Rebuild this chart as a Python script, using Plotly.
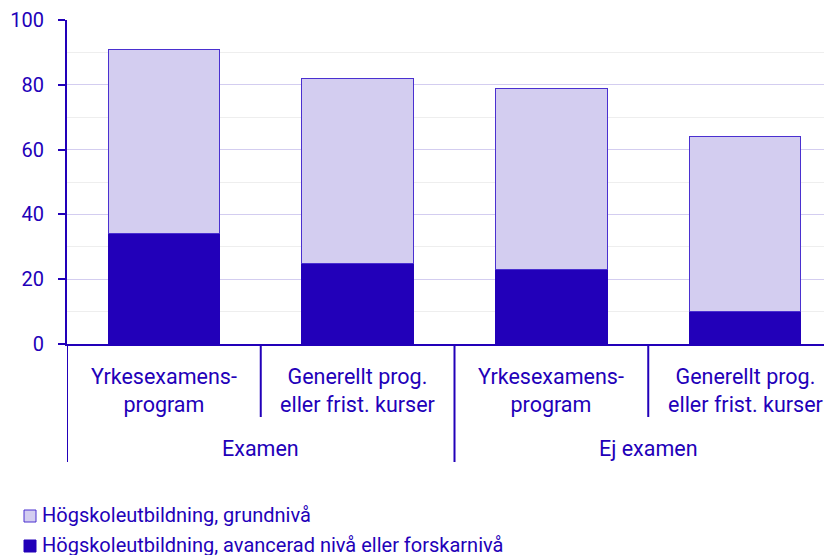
import plotly.graph_objects as go

categories = ["Yrkesexamens-<br>program", "Generellt prog.<br>eller frist. kurser",
              "Yrkesexamens-<br>program", "Generellt prog.<br>eller frist. kurser"]
groups = ["Examen", "Ej examen"]
grund = [57, 57, 56, 54]        # Högskoleutbildning, grundnivå (stacked on top)
avancerad = [34, 25, 23, 10]    # Högskoleutbildning, avancerad nivå eller forskarnivå
y_ticks = [0, 20, 40, 60, 80, 100]
series_names = ["Högskoleutbildning, grundnivå",
                "Högskoleutbildning, avancerad nivå eller forskarnivå"]

DARK = "#2200b9"
LIGHT = "#d3cdf0"
EDGE = "#4a30d0"
TEXT = "#2200b9"
FONT = "Roboto"

xpos = list(range(len(categories)))

fig = go.Figure()
fig.add_trace(go.Bar(x=xpos, y=avancerad, name=series_names[1],
                     marker=dict(color=DARK, line=dict(color=DARK, width=1)), width=0.575))
fig.add_trace(go.Bar(x=xpos, y=grund, name=series_names[0],
                     marker=dict(color=LIGHT, line=dict(color=EDGE, width=1)), width=0.575))

# layout geometry (px)
L, T, PW, PH = 59, 12, 775.0, 324.0
OFF = 8  # page body offset
PLOT_LEFT = OFF + L
PLOT_BOTTOM = OFF + T + PH


def px_x(px):
    return (px - PLOT_LEFT) / PW


def px_y(py):
    return (PLOT_BOTTOM - py) / PH


shapes = []
for b in [0.5, 2.5]:
    shapes.append(dict(type="line", xref="x", yref="paper", x0=b, x1=b, y0=0, y1=-73/PH,
                       line=dict(color=DARK, width=2)))
for b in [-0.5, 1.5]:
    shapes.append(dict(type="line", xref="x", yref="paper", x0=b, x1=b, y0=0, y1=-118/PH,
                       line=dict(color=DARK, width=2)))

annotations = []
for i, c in enumerate(categories):
    annotations.append(dict(x=i, y=0, xref="x", yref="paper", text=c, showarrow=False,
                            yanchor="top", yshift=-18, font=dict(family=FONT, size=21.5, color=TEXT)))
for g, xc in zip(groups, [0.5, 2.5]):
    annotations.append(dict(x=xc, y=0, xref="x", yref="paper", text=g, showarrow=False,
                            yanchor="top", yshift=-90, font=dict(family=FONT, size=21.5, color=TEXT)))

# custom legend (light first, then dark)
legend_rows = [515, 545]
legend_fill = [LIGHT, DARK]
legend_edge = [EDGE, DARK]
for name, row, fc, ec in zip(series_names, legend_rows, legend_fill, legend_edge):
    shapes.append(dict(type="rect", xref="paper", yref="paper",
                       x0=px_x(24), x1=px_x(36), y0=px_y(row - 5), y1=px_y(row + 7),
                       fillcolor=fc, line=dict(color=ec, width=1)))
    annotations.append(dict(x=px_x(40), y=px_y(row), xref="paper", yref="paper", text=name,
                            showarrow=False, xanchor="left", yanchor="middle",
                            font=dict(family=FONT, size=20, color=TEXT)))

fig.update_layout(
    barmode="stack",
    width=834, height=547,
    margin=dict(l=L, r=0, t=T, b=211, autoexpand=False),
    paper_bgcolor="white", plot_bgcolor="white",
    font=dict(family=FONT, size=20, color=TEXT),
    showlegend=False,
    xaxis=dict(range=[-0.5, 3.5], showticklabels=False, showgrid=False, zeroline=False,
               showline=True, linecolor=DARK, linewidth=2, ticks=""),
    yaxis=dict(range=[0, 100], tickvals=y_ticks, showgrid=True, gridcolor="#d3cdf0", gridwidth=1,
               zeroline=False, showline=True, linecolor=DARK, linewidth=2,
               ticks="outside", ticklen=7, tickcolor=DARK, tickwidth=2, ticklabelstandoff=10,
               tickfont=dict(family=FONT, size=20, color=TEXT),
               minor=dict(dtick=10, showgrid=True, gridcolor="#eeeeee", ticks="")),
    shapes=shapes, annotations=annotations,
)

fig.write_html("out.html")
